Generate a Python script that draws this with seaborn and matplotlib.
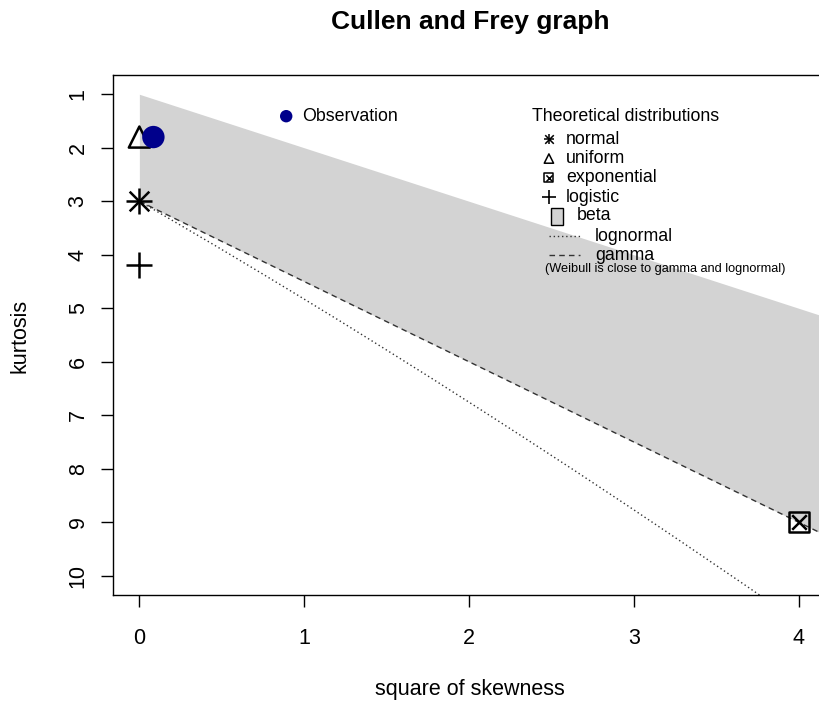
import matplotlib
matplotlib.use("Agg")
import matplotlib.pyplot as plt
import seaborn as sns
from matplotlib.patches import Rectangle

# ---- data ----
obs_skew2 = [0.085]
obs_kurt = [1.80]

dist_names = ["normal", "uniform", "exponential", "logistic"]
dist_skew2 = [0.0, 0.0, 4.0, 0.0]
dist_kurt = [3.0, 1.8, 9.0, 4.2]

beta_x = [0.0, 4.2]
beta_lower = [1.0, 5.2]
beta_upper = [3.0, 9.3]

gamma_x = [0.0, 4.2]
gamma_k = [3.0, 9.3]

lognorm_x = [0.0, 0.091, 0.182, 0.275, 0.465, 0.709, 0.961, 1.221, 1.488, 1.764,
             2.048, 2.340, 2.641, 2.950, 3.267, 3.659, 3.928]
lognorm_k = [3.0, 3.162, 3.326, 3.494, 3.838, 4.287, 4.756, 5.246, 5.758, 6.292,
             6.850, 7.430, 8.035, 8.665, 9.320, 10.141, 10.710]

xticks = [0, 1, 2, 3, 4]
yticks = [1, 2, 3, 4, 5, 6, 7, 8, 9, 10]

sns.set_theme(style="white")
plt.rcParams['font.family'] = ['Liberation Sans', 'DejaVu Sans']
plt.rcParams['text.color'] = 'black'
plt.rcParams['xtick.color'] = 'black'
plt.rcParams['ytick.color'] = 'black'

fig = plt.figure(figsize=(8.2, 7.04), dpi=100)
ax = fig.add_axes([113/820, 1 - 595/704, 712/820, 520/704])

ax.fill_between(beta_x, beta_lower, beta_upper, color="#D3D3D3", linewidth=0, zorder=1)

sns.lineplot(x=gamma_x, y=gamma_k, ax=ax, color="#333333", linestyle=(0, (4, 3)),
             linewidth=1.0, sort=False, zorder=2)
sns.lineplot(x=lognorm_x, y=lognorm_k, ax=ax, color="#333333", linestyle=(0, (1, 2)),
             linewidth=1.0, sort=False, zorder=2)

# theoretical points
ax.scatter([dist_skew2[0]], [dist_kurt[0]], marker="+", s=330, c="black", linewidths=1.8, zorder=4)
ax.scatter([dist_skew2[0]], [dist_kurt[0]], marker="x", s=200, c="black", linewidths=1.8, zorder=4)
ax.scatter([dist_skew2[1]], [dist_kurt[1]], marker="^", s=230, facecolors="none",
           edgecolors="black", linewidths=1.8, zorder=4)
ax.scatter([dist_skew2[2]], [dist_kurt[2]], marker="s", s=210, facecolors="none",
           edgecolors="black", linewidths=1.8, zorder=4)
ax.scatter([dist_skew2[2]], [dist_kurt[2]], marker="x", s=110, c="black", linewidths=1.8, zorder=4)
ax.scatter([dist_skew2[3]], [dist_kurt[3]], marker="+", s=330, c="black", linewidths=1.8, zorder=4)

sns.scatterplot(x=obs_skew2, y=obs_kurt, ax=ax, color="#00008B", s=260, edgecolor="none", zorder=5)

ax.set_xlim(-0.16, 4.16)
ax.set_ylim(10.36, 0.64)
ax.set_xticks(xticks)
ax.set_xticklabels([str(v) for v in xticks], fontsize=15.5)
ax.set_yticks(yticks)
ax.set_yticklabels([str(v) for v in yticks], fontsize=15.5, rotation=90, va="center")
ax.tick_params(axis="both", which="major", bottom=True, left=True, direction="out",
               length=8.5, width=1, color="black")
ax.tick_params(axis="x", pad=15)
ax.tick_params(axis="y", pad=9)
for s in ax.spines.values():
    s.set_color("black")
    s.set_linewidth(1)

fig.text(20/820, 1 - 336/704, "kurtosis", rotation=90, ha="center", va="center", fontsize=15.5)
fig.text(470/820, 1 - 690/704, "square of skewness", ha="center", va="center", fontsize=15.5)
fig.text(470/820, 1 - 22/704, "Cullen and Frey graph", ha="center", va="center",
         fontsize=19, fontweight="bold")


def px(xp, yp):
    return ((xp - 139) / 165.0, 1 + (yp - 95) / 53.67)


# Observation legend
a, b = px(286, 117)
ax.scatter([a], [b], s=80, c="#00008B", edgecolors="none", zorder=5)
a, b = px(302, 117)
ax.text(a, b, "Observation", va="center", ha="left", fontsize=12.8)

# Theoretical legend
tx, ty = px(626, 117)
ax.text(tx, ty, "Theoretical distributions", ha="center", va="center", fontsize=12.8)
rows = [140, 159.5, 179, 198.5, 217, 237.5, 256.5]
mx = 549
x0, y0 = px(mx, rows[0])
ax.scatter([x0], [y0], marker="+", s=60, c="black", linewidths=1.1, zorder=6)
ax.scatter([x0], [y0], marker="x", s=38, c="black", linewidths=1.1, zorder=6)
x0, y0 = px(mx, rows[1])
ax.scatter([x0], [y0], marker="^", s=45, facecolors="none", edgecolors="black", linewidths=1.1, zorder=6)
x0, y0 = px(mx, rows[2])
ax.scatter([x0], [y0], marker="s", s=42, facecolors="none", edgecolors="black", linewidths=1.1, zorder=6)
ax.scatter([x0], [y0], marker="x", s=20, c="black", linewidths=1.1, zorder=6)
x0, y0 = px(mx, rows[3])
ax.scatter([x0], [y0], marker="+", s=110, c="black", linewidths=1.2, zorder=6)
for r, name in zip(rows[:4], dist_names):
    a, b = px(566, r)
    ax.text(a, b, name, va="center", ha="left", fontsize=12.8)
# beta box
a, b = px(551, 209)
a2, b2 = px(563, 226)
ax.add_patch(Rectangle((a, b), a2 - a, b2 - b, facecolor="#D3D3D3", edgecolor="black",
                       linewidth=1.0, zorder=6))
a, b = px(577, rows[4])
ax.text(a, b, "beta", va="center", ha="left", fontsize=12.8)
a, b = px(549, rows[5]); a2, _ = px(580, rows[5])
ax.plot([a, a2], [b, b], color="#333333", linestyle=(0, (1, 2)), linewidth=1.0, zorder=6)
a, b = px(595, rows[5])
ax.text(a, b, "lognormal", va="center", ha="left", fontsize=12.8)
a, b = px(549, rows[6]); a2, _ = px(580, rows[6])
ax.plot([a, a2], [b, b], color="#333333", linestyle=(0, (4, 3)), linewidth=1.0, zorder=6)
a, b = px(595, rows[6])
ax.text(a, b, "gamma", va="center", ha="left", fontsize=12.8)
a, b = px(545, 270)
ax.text(a, b, "(Weibull is close to gamma and lognormal)", va="center", ha="left", fontsize=9.2)

fig.savefig("out.png", dpi=100)
